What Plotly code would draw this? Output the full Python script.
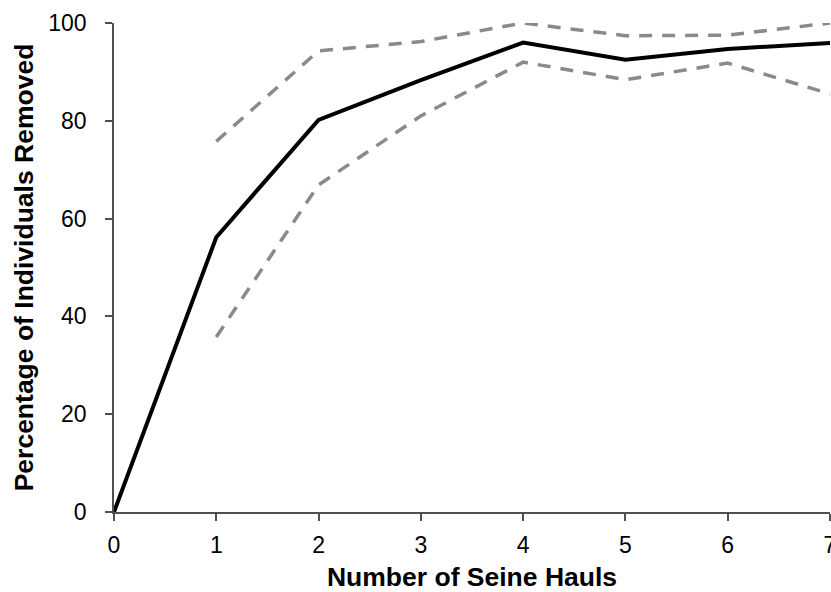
import plotly.graph_objects as go

hauls = [0, 1, 2, 3, 4, 5, 6, 7]
mean_removed = [0, 56.2, 80.2, 88.3, 96.0, 92.5, 94.7, 95.9]
upper_x = [1, 2, 3, 4, 5, 6, 7]
upper_ci = [75.8, 94.3, 96.2, 100.0, 97.4, 97.5, 100.0]
lower_x = [1, 2, 3, 4, 5, 6, 7]
lower_ci = [35.8, 66.9, 81.0, 92.0, 88.4, 91.8, 85.5]

x_ticks = [0, 1, 2, 3, 4, 5, 6, 7]
y_ticks = [0, 20, 40, 60, 80, 100]

fig = go.Figure()
fig.add_trace(go.Scatter(x=upper_x, y=upper_ci, mode="lines",
                         line=dict(color="#8a8a8a", width=3.5, dash="13px,10px"),
                         showlegend=False))
fig.add_trace(go.Scatter(x=lower_x, y=lower_ci, mode="lines",
                         line=dict(color="#8a8a8a", width=3.5, dash="13px,10px"),
                         showlegend=False))
fig.add_trace(go.Scatter(x=hauls, y=mean_removed, mode="lines",
                         line=dict(color="#000000", width=4),
                         showlegend=False))

font_family = "Liberation Sans, Arial, sans-serif"
fig.update_layout(
    width=831, height=592,
    margin=dict(l=114, r=1, t=23, b=80, autoexpand=False),
    plot_bgcolor="white", paper_bgcolor="white",
    font=dict(family=font_family, size=23, color="#000000"),
    xaxis=dict(range=[0, 7], tickvals=x_ticks, ticktext=[str(v) for v in x_ticks],
               showgrid=False, zeroline=False, showline=True, linecolor="#505050",
               linewidth=1.5, ticks="outside", ticklen=7, tickcolor="#505050",
               tickwidth=1.5, ticklabelstandoff=5, automargin=False,
               ticklabeloverflow="allow",
               title=dict(text="<b>Number of Seine Hauls</b>", font=dict(size=26.5), standoff=12)),
    yaxis=dict(range=[0, 100], tickvals=y_ticks, ticktext=[str(v) for v in y_ticks],
               showgrid=False, zeroline=False, showline=True, linecolor="#505050",
               linewidth=1.5, ticks="outside", ticklen=7, tickcolor="#505050",
               tickwidth=1.5, ticklabelstandoff=14, automargin=False,
               ticklabeloverflow="allow",
               title=dict(text="<b>Percentage of Individuals Removed</b>", font=dict(size=26.5), standoff=7)),
)

fig.write_html("out.html", config={"displayModeBar": False},
               post_script="document.body.style.margin='0';document.body.style.overflow='hidden';")
